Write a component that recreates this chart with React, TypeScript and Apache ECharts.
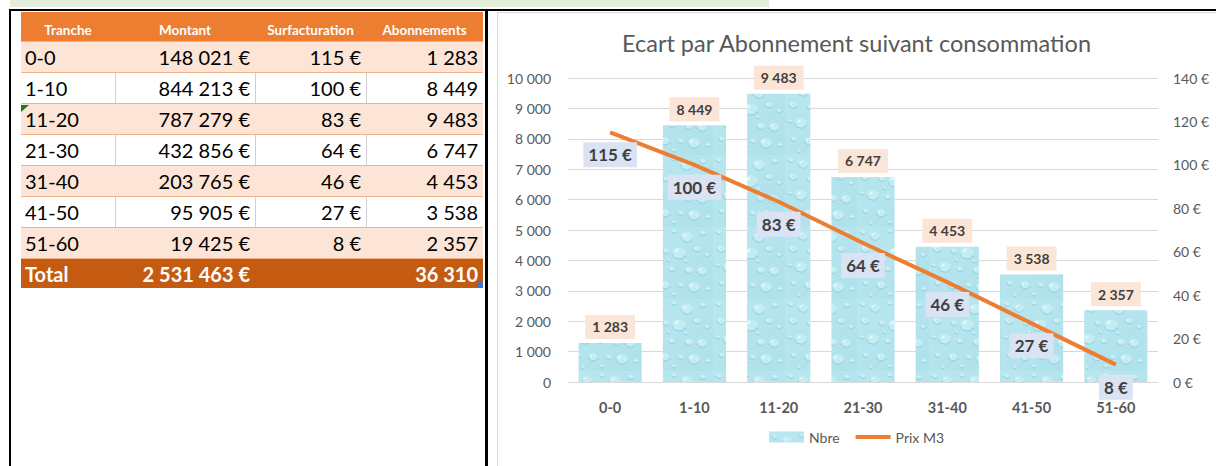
import React, { useEffect, useRef } from 'react';
import * as echarts from 'echarts';

// ---------- data ----------
const tranches = ['0-0', '1-10', '11-20', '21-30', '31-40', '41-50', '51-60'];
const montants = [148021, 844213, 787279, 432856, 203765, 95905, 19425];
const surfacturation = [115, 100, 83, 64, 46, 27, 8];
const abonnements = [1283, 8449, 9483, 6747, 4453, 3538, 2357];
const totalLabel = 'Total';
const totalMontant = 2531463;
const totalAbonnements = 36310;
const headers = ['Tranche', 'Montant', 'Surfacturation', 'Abonnements'];
const chartTitle = 'Ecart par Abonnement suivant consommation';
const barSeriesName = 'Nbre';
const lineSeriesName = 'Prix M3';

// texture drops for the "water" bar fill: [x, y, r]
const drops = [
  [6, 5, 3], [18, 9, 5], [33, 4, 2.5], [46, 10, 6], [62, 6, 3], [8, 22, 4],
  [25, 24, 3], [38, 26, 7], [56, 22, 3.5], [66, 28, 2.5], [5, 38, 2.5], [16, 40, 6],
  [31, 42, 3], [48, 43, 4], [61, 44, 5], [9, 56, 3], [24, 58, 4.5], [40, 58, 3],
  [53, 60, 6], [67, 62, 2.5], [14, 68, 2], [33, 67, 2.5], [45, 34, 2], [28, 33, 2],
];

const fmt = (n: number) => String(n).replace(/\B(?=(\d{3})+(?!\d))/g, ' ');

const FONT = 'Lato, "Liberation Sans", sans-serif';
const cols = [21, 115, 255, 366, 483];

function makePattern(): HTMLCanvasElement {
  const c = document.createElement('canvas');
  c.width = 72;
  c.height = 72;
  const ctx = c.getContext('2d')!;
  const g = ctx.createLinearGradient(0, 0, 72, 72);
  g.addColorStop(0, '#B9E7EF');
  g.addColorStop(1, '#AEE1EB');
  ctx.fillStyle = g;
  ctx.fillRect(0, 0, 72, 72);
  for (const [x, y, r] of drops) {
    ctx.beginPath();
    ctx.ellipse(x, y, r, r * 0.85, 0, 0, Math.PI * 2);
    ctx.fillStyle = '#C4ECF2';
    ctx.fill();
    ctx.beginPath();
    ctx.ellipse(x, y, r, r * 0.85, 0, 0.1 * Math.PI, 1.0 * Math.PI);
    ctx.lineWidth = 1;
    ctx.strokeStyle = '#8FCFDC';
    ctx.stroke();
    ctx.beginPath();
    ctx.ellipse(x - r * 0.35, y - r * 0.35, r * 0.3, r * 0.2, -0.6, 0, Math.PI * 2);
    ctx.fillStyle = '#E4F7FA';
    ctx.fill();
  }
  return c;
}

function Chart() {
  const ref = useRef<HTMLDivElement>(null);
  useEffect(() => {
    if (!ref.current) return;
    const chart = echarts.init(ref.current, undefined, { renderer: 'svg' });
    const pattern = { image: makePattern(), repeat: 'repeat' };
    chart.setOption({
      animation: false,
      textStyle: { fontFamily: FONT },
      title: {
        text: chartTitle,
        left: 'center',
        top: 15,
        textStyle: { fontSize: 23.5, fontWeight: 'normal', color: '#595959', fontFamily: FONT },
      },
      grid: { left: 71, right: 58, top: 67, bottom: 84 },
      legend: {
        bottom: 17,
        left: 'center',
        itemWidth: 35,
        itemHeight: 11,
        itemGap: 14,
        textStyle: { color: '#595959', fontSize: 14, fontFamily: FONT },
        lineStyle: { width: 4 },
        data: [
          { name: barSeriesName, icon: 'rect' },
          { name: lineSeriesName, itemStyle: { opacity: 0 } },
        ],
      },
      xAxis: {
        type: 'category',
        data: tranches,
        axisLine: { show: true, lineStyle: { color: '#D9D9D9' } },
        axisTick: { show: false },
        axisLabel: { fontWeight: 'bold', fontSize: 14.5, color: '#595959', margin: 18, fontFamily: FONT },
      },
      yAxis: [
        {
          type: 'value',
          min: 0,
          max: 10000,
          interval: 1000,
          axisLine: { show: false },
          axisTick: { show: false },
          splitLine: { lineStyle: { color: '#D9D9D9' } },
          axisLabel: { formatter: (v: number) => fmt(v), color: '#595959', fontSize: 14, margin: 17, fontFamily: FONT },
        },
        {
          type: 'value',
          min: 0,
          max: 140,
          interval: 20,
          position: 'right',
          axisLine: { show: false },
          axisTick: { show: false },
          splitLine: { show: false },
          axisLabel: { formatter: (v: number) => `${v} €`, color: '#595959', fontSize: 14, margin: 15, fontFamily: FONT },
        },
      ],
      series: [
        {
          name: barSeriesName,
          type: 'bar',
          data: abonnements,
          barCategoryGap: '25%',
          itemStyle: { color: pattern },
          label: {
            show: true,
            position: 'top',
            distance: 4,
            formatter: (p: any) => fmt(p.value),
            fontWeight: 'bold',
            fontSize: 14,
            color: '#404040',
            backgroundColor: '#FBE5D6',
            padding: [5, 7],
            fontFamily: FONT,
          },
        },
        {
          name: lineSeriesName,
          type: 'line',
          yAxisIndex: 1,
          data: surfacturation,
          symbol: 'circle',
          symbolSize: 0,
          lineStyle: { color: '#ED7D31', width: 4 },
          itemStyle: { color: '#ED7D31' },
          label: {
            show: true,
            position: 'bottom',
            distance: 10,
            formatter: (p: any) => `${p.value} €`,
            fontWeight: 'bold',
            fontSize: 17,
            color: '#404040',
            backgroundColor: '#DAE3F3',
            padding: [4, 5],
            fontFamily: FONT,
          },
        },
      ],
    });
    return () => chart.dispose();
  }, []);
  return <div ref={ref} style={{ position: 'absolute', left: 497, top: 11, width: 719, height: 455 }} />;
}

function Row({ top, height, bg, cells, bold, color, borderTop, sep }: any) {
  return (
    <div
      style={{
        position: 'absolute',
        left: cols[0],
        top,
        width: cols[4] - cols[0],
        height,
        background: bg,
        borderTop: borderTop,
        boxSizing: 'border-box',
      }}
    >
      {cells.map((t: string, j: number) => (
        <div
          key={j}
          style={{
            position: 'absolute',
            left: cols[j] - cols[0],
            top: 0,
            width: cols[j + 1] - cols[j],
            height: '100%',
            boxSizing: 'border-box',
            borderLeft: sep && j > 0 ? '1px solid #D0D0D0' : 'none',
            display: 'flex',
            alignItems: 'center',
            justifyContent: j === 0 ? 'flex-start' : 'flex-end',
            paddingLeft: j === 0 ? 4 : 0,
            paddingRight: j === 0 ? 0 : 5,
            fontSize: 20,
            fontWeight: bold ? 'bold' : 'normal',
            color,
            whiteSpace: 'nowrap',
            fontFamily: FONT,
          }}
        >
          {t}
        </div>
      ))}
    </div>
  );
}

export default function App() {
  return (
    <div style={{ position: 'fixed', left: 0, top: 0, width: 1216, height: 466, background: '#fff', overflow: 'hidden', fontFamily: FONT }}>
      {/* green strip */}
      <div style={{ position: 'absolute', left: 10, top: 0, width: 759, height: 7, background: '#E2EFDA' }} />
      {/* black frame lines */}
      <div style={{ position: 'absolute', left: 9, top: 9, width: 1207, height: 2, background: '#000' }} />
      <div style={{ position: 'absolute', left: 9, top: 9, width: 2, height: 457, background: '#000' }} />
      <div style={{ position: 'absolute', left: 485, top: 9, width: 3, height: 457, background: '#000' }} />
      {/* chart area border */}
      <div style={{ position: 'absolute', left: 497, top: 12, width: 719, height: 454, borderLeft: '1px solid #D9D9D9', borderTop: '1px solid #D9D9D9' }} />

      {/* table header */}
      <div style={{ position: 'absolute', left: cols[0], top: 12, width: cols[4] - cols[0], height: 29, background: '#ED7D31' }}>
        {headers.map((h, j) => (
          <div
            key={h}
            style={{
              position: 'absolute',
              left: cols[j] - cols[0],
              top: 0,
              width: cols[j + 1] - cols[j],
              height: 29,
              boxSizing: 'border-box',
              paddingTop: 6,
              display: 'flex',
              alignItems: 'center',
              justifyContent: 'center',
              color: '#fff',
              fontWeight: 'bold',
              fontSize: 13.5,
              fontFamily: FONT,
            }}
          >
            {h}
          </div>
        ))}
      </div>
      {tranches.map((t, i) => (
        <Row
          key={t}
          top={41 + i * 31}
          height={31}
          bg={i % 2 === 0 ? '#FCE4D6' : '#FFFFFF'}
          borderTop="1.5px solid #F4B084"
          sep={i % 2 === 1}
          color="#000"
          cells={[t, `${fmt(montants[i])} €`, `${surfacturation[i]} €`, fmt(abonnements[i])]}
        />
      ))}
      <Row
        top={258}
        height={30}
        bg="#C55A11"
        borderTop="1px solid #F4B084"
        bold
        color="#fff"
        cells={[totalLabel, `${fmt(totalMontant)} €`, '', fmt(totalAbonnements)]}
      />
      {/* excel cell markers */}
      <div style={{ position: 'absolute', left: 21, top: 105, width: 0, height: 0, borderTop: '7px solid #1E7B1E', borderRight: '8px solid transparent' }} />
      <div style={{ position: 'absolute', left: 477, top: 281, width: 6, height: 6, background: '#4472C4' }} />

      <Chart />
    </div>
  );
}
